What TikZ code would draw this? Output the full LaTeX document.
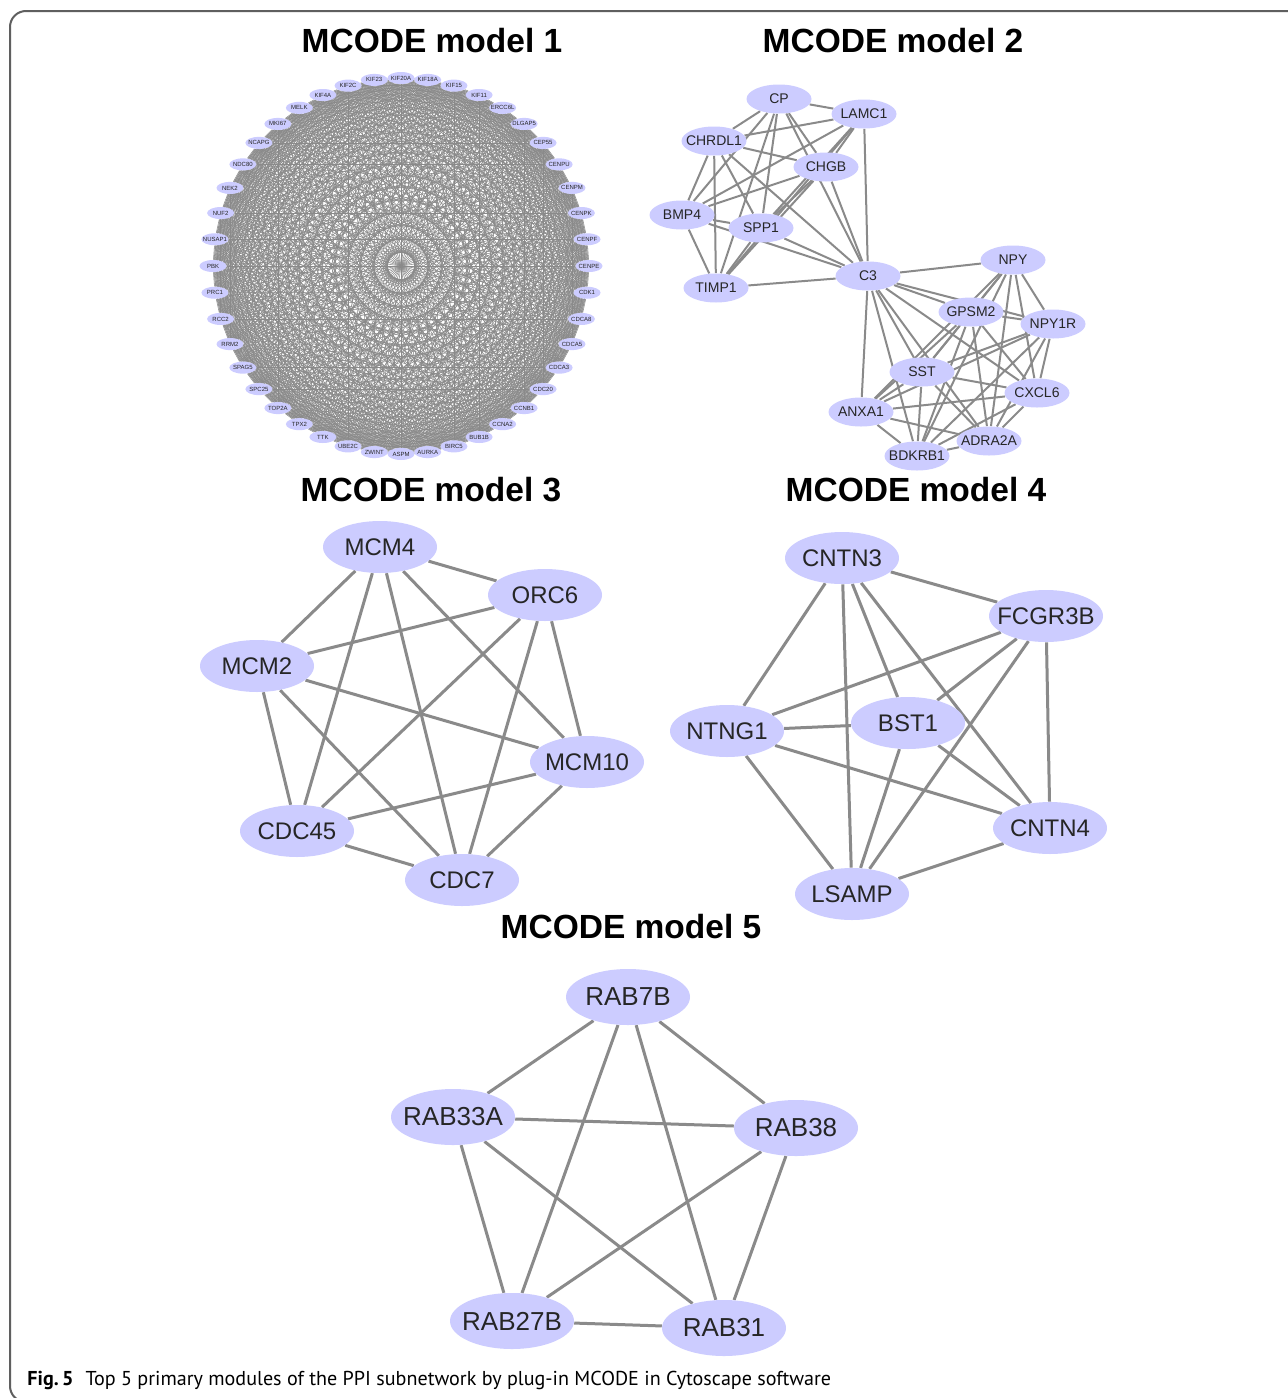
\documentclass[tikz,border=0pt]{standalone}
\usepackage{fontspec}
\setmainfont{Liberation Sans}
\newfontfamily\captionfont{PT Sans}
\usetikzlibrary{shapes.geometric}
\usetikzlibrary{backgrounds}
\definecolor{protfill}{RGB}{204,204,255}
\definecolor{linkgray}{RGB}{138,138,138}
\definecolor{framegray}{RGB}{95,95,95}

\begin{document}
\begin{tikzpicture}[x=0.5pt, y=-0.5pt,
	prot/.style={ellipse, fill=protfill, inner xsep=-8pt, inner ysep=0pt, text=black!85},
	protA/.style={prot, minimum width=13.5pt, minimum height=6pt, inner xsep=-3pt, font=\fontsize{3}{3}\selectfont},
	protB/.style={prot, minimum width=32.5pt, minimum height=14.5pt, inner xsep=-6pt, font=\fontsize{7}{8}\selectfont},
	protC/.style={prot, minimum width=57pt, minimum height=26pt, font=\fontsize{12}{14}\selectfont},
	protD/.style={prot, minimum width=62pt, minimum height=28pt, font=\fontsize{13}{15}\selectfont},
	linkA/.style={draw=linkgray, line width=0.27pt},
	linkB/.style={draw=linkgray, line width=1pt},
	linkC/.style={draw=linkgray, line width=1.5pt},
	title/.style={font=\bfseries\fontsize{16.75}{20}\selectfont, inner sep=0pt}]

	\useasboundingbox (0,0) rectangle (1287,1398);
	\begin{scope}[on background layer]
		\fill[white] (0,0) rectangle (1287,1398);
	\end{scope}
	\draw[framegray, line width=1pt, rounded corners=8] (1300,11) -- (10,11) -- (10,1402) -- (40,1402);

	% titles
	\node[title] (t1) at (432,41) {MCODE model 1};
	\node[title] (t2) at (893,41) {MCODE model 2};
	\node[title] (t3) at (431,490) {MCODE model 3};
	\node[title] (t4) at (916,490) {MCODE model 4};
	\node[title] (t5) at (631,927) {MCODE model 5};

	% model 1: 44 proteins on a circle, every pair linked
	\foreach \g [count=\i from 0] in {KIF20A,KIF18A,KIF15,KIF11,ERCC6L,DLGAP5,CEP55,CENPU,CENPM,CENPK,CENPF,
		CENPE,CDK1,CDCA8,CDCA5,CDCA3,CDC20,CCNB1,CCNA2,BUB1B,BIRC5,AURKA,ASPM,ZWINT,UBE2C,TTK,TPX2,
		TOP2A,SPC25,SPAG5,RRM2,RCC2,PRC1,PBK,NUSAP1,NUF2,NEK2,NDC80,NCAPG,MKI67,MELK,KIF4A,KIF2C,KIF23}
		\node[protA] (m1-\i) at ({401+188*cos(360/44*\i-90)}, {266+188*sin(360/44*\i-90)}) {\g};
	\begin{scope}[on background layer]
		\foreach \i in {0,...,43}
			\foreach \j in {\i,...,43} {
				\ifnum\i<\j \draw[linkA] (m1-\i) -- (m1-\j); \fi
			}
	\end{scope}

	% model 2
	\node[protB] (CP) at (779,99) {CP};
	\node[protB] (LAMC1) at (864,114) {LAMC1};
	\node[protB] (CHRDL1) at (714,141) {CHRDL1};
	\node[protB] (CHGB) at (826,167) {CHGB};
	\node[protB] (BMP4) at (682,215) {BMP4};
	\node[protB] (SPP1) at (761,228) {SPP1};
	\node[protB] (TIMP1) at (716,288) {TIMP1};
	\node[protB] (C3) at (868,276) {C3};
	\node[protB] (NPY) at (1013,260) {NPY};
	\node[protB] (GPSM2) at (971,312) {GPSM2};
	\node[protB] (NPY1R) at (1053,324) {NPY1R};
	\node[protB] (SST) at (922,372) {SST};
	\node[protB] (CXCL6) at (1037,393) {CXCL6};
	\node[protB] (ANXA1) at (861,412) {ANXA1};
	\node[protB] (ADRA2A) at (989,441) {ADRA2A};
	\node[protB] (BDKRB1) at (917,456) {BDKRB1};
	\begin{scope}[on background layer]
		\foreach \a [count=\i] in {CP,LAMC1,CHRDL1,CHGB,BMP4,SPP1,TIMP1,C3}
			\foreach \b [count=\j] in {CP,LAMC1,CHRDL1,CHGB,BMP4,SPP1,TIMP1,C3} {
				\ifnum\i<\j \draw[linkB] (\a) -- (\b); \fi
			}
		\foreach \a [count=\i] in {C3,NPY,GPSM2,NPY1R,SST,CXCL6,ANXA1,ADRA2A,BDKRB1}
			\foreach \b [count=\j] in {C3,NPY,GPSM2,NPY1R,SST,CXCL6,ANXA1,ADRA2A,BDKRB1} {
				\ifnum\i<\j \draw[linkB] (\a) -- (\b); \fi
			}
	\end{scope}

	% model 3
	\node[protC] (MCM4) at (380,547) {MCM4};
	\node[protC] (ORC6) at (545,595) {ORC6};
	\node[protC] (MCM2) at (257,666) {MCM2};
	\node[protC] (MCM10) at (587,762) {MCM10};
	\node[protC] (CDC45) at (297,831) {CDC45};
	\node[protC] (CDC7) at (462,880) {CDC7};

	% model 4
	\node[protC] (CNTN3) at (842,558) {CNTN3};
	\node[protC] (FCGR3B) at (1046,616) {FCGR3B};
	\node[protC] (NTNG1) at (727,731) {NTNG1};
	\node[protC] (BST1) at (908,723) {BST1};
	\node[protC] (CNTN4) at (1050,828) {CNTN4};
	\node[protC] (LSAMP) at (852,894) {LSAMP};

	% model 5
	\node[protD] (RAB7B) at (628,997) {RAB7B};
	\node[protD] (RAB33A) at (453,1117) {RAB33A};
	\node[protD] (RAB38) at (796,1128) {RAB38};
	\node[protD] (RAB27B) at (512,1321) {RAB27B};
	\node[protD] (RAB31) at (724,1328) {RAB31};

	\begin{scope}[on background layer]
		\foreach \a [count=\i] in {MCM4,ORC6,MCM2,MCM10,CDC45,CDC7}
			\foreach \b [count=\j] in {MCM4,ORC6,MCM2,MCM10,CDC45,CDC7} {
				\ifnum\i<\j \draw[linkC] (\a) -- (\b); \fi
			}
		\foreach \a [count=\i] in {CNTN3,FCGR3B,NTNG1,BST1,CNTN4,LSAMP}
			\foreach \b [count=\j] in {CNTN3,FCGR3B,NTNG1,BST1,CNTN4,LSAMP} {
				\ifnum\i<\j \draw[linkC] (\a) -- (\b); \fi
			}
		\foreach \a [count=\i] in {RAB7B,RAB33A,RAB38,RAB27B,RAB31}
			\foreach \b [count=\j] in {RAB7B,RAB33A,RAB38,RAB27B,RAB31} {
				\ifnum\i<\j \draw[linkC] (\a) -- (\b); \fi
			}
	\end{scope}

	% caption
	\node[anchor=base west, inner sep=0pt, font=\captionfont\fontsize{10.05}{12}\selectfont] (caption) at (27,1385)
		{\textbf{Fig.\,5}\hspace{0.6em}Top 5 primary modules of the PPI subnetwork by plug-in MCODE in Cytoscape software};
\end{tikzpicture}
\end{document}
